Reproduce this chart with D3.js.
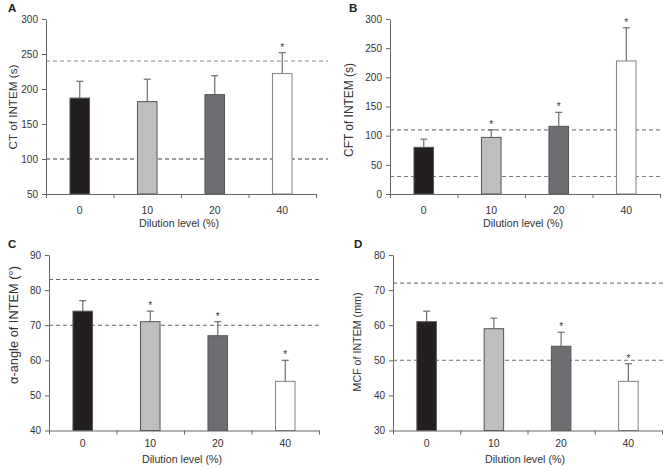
<!DOCTYPE html>
<html><head><meta charset="utf-8">
<script src="https://cdn.jsdelivr.net/npm/d3@7"></script>
<style>body{margin:0;background:#fff}svg{display:block}text{font-family:"Liberation Sans",Arial,sans-serif}</style>
</head><body>
<svg id="c" width="672" height="469"></svg>
<script>
const categories = ["0", "10", "20", "40"];
const barColors = ["#231f20", "#bcbec0", "#6d6e71", "#ffffff"];

const ctMean = [187, 182, 192, 222];
const ctErr = [211, 214, 219, 252];
const ctStar = [false, false, false, true];
const ctRef = [240, 100];
const ctTicks = [50, 100, 150, 200, 250, 300];

const cftMean = [80, 97, 116, 228];
const cftErr = [94, 110, 140, 285];
const cftStar = [false, true, true, true];
const cftRef = [110, 30];
const cftTicks = [0, 50, 100, 150, 200, 250, 300];

const alphaMean = [74, 71, 67, 54];
const alphaErr = [77, 74, 71, 60];
const alphaStar = [false, true, true, true];
const alphaRef = [83, 70];
const alphaTicks = [40, 50, 60, 70, 80, 90];

const mcfMean = [61, 59, 54, 44];
const mcfErr = [64, 62, 58, 49];
const mcfStar = [false, false, true, true];
const mcfRef = [72, 50];
const mcfTicks = [30, 40, 50, 60, 70, 80];

const svg = d3.select("#c");

const panels = [
  {letter:"A", lx:8, ly:12, x0:46, x1:316, y0:194, y1:19, dom:[50,300], ticks:ctTicks, mean:ctMean, err:ctErr, star:ctStar, ref:ctRef, refCol:["#8a8a8a","#3c3c3c"], refEnd:328, ylab:"CT of INTEM (s)", ylx:13, yly:107, ylen:85, xlx:179, xly:227, catY:214},
  {letter:"B", lx:349, ly:12, x0:390, x1:660, y0:194, y1:19, dom:[0,300], ticks:cftTicks, mean:cftMean, err:cftErr, star:cftStar, ref:cftRef, refCol:["#7d7d7d","#7d7d7d"], refEnd:662, ylab:"CFT of INTEM (s)", ylx:349, yly:110, ylen:94, xlx:523, xly:227, catY:214},
  {letter:"C", lx:8, ly:248, x0:49, x1:319, y0:430.5, y1:255, dom:[40,90], ticks:alphaTicks, mean:alphaMean, err:alphaErr, star:alphaStar, ref:alphaRef, refCol:["#666","#666"], refEnd:320, ylab:"\u03b1-angle of INTEM (\u00b0)", ylx:13, yly:325, ylen:118, xlx:182, xly:462.5, catY:447},
  {letter:"D", lx:354, ly:248, x0:393, x1:662, y0:430.5, y1:255, dom:[30,80], ticks:mcfTicks, mean:mcfMean, err:mcfErr, star:mcfStar, ref:mcfRef, refCol:["#808080","#707070"], refEnd:665, ylab:"MCF of INTEM (mm)", ylx:357, yly:342, ylen:99, xlx:525, xly:462.5, catY:447}
];

const axisColor = "#666";
const textCol = "#333";

function fit(sel, len) {
  const node = sel.node();
  const cur = parseFloat(sel.attr("font-size"));
  const w = node.getComputedTextLength();
  if (w > 0) sel.attr("font-size", (cur * len / w).toFixed(2));
}

panels.forEach(p => {
  const g = svg.append("g");
  const x = d3.scaleBand().domain(categories).range([p.x0, p.x1]).padding(0);
  const y = d3.scaleLinear().domain(p.dom).range([p.y0, p.y1]);
  const bw = x.bandwidth() * 0.29;

  // reference dashed lines
  p.ref.forEach((r, i) => {
    g.append("line").attr("x1", p.x0).attr("x2", p.refEnd)
      .attr("y1", y(r)).attr("y2", y(r))
      .attr("stroke", p.refCol[i])
      .attr("stroke-width", 1.1).attr("stroke-dasharray", "4,3");
  });

  // error bars
  categories.forEach((c, i) => {
    const cx = x(c) + x.bandwidth() / 2;
    g.append("line").attr("x1", cx).attr("x2", cx)
      .attr("y1", y(p.mean[i])).attr("y2", y(p.err[i]))
      .attr("stroke", "#6d6e71").attr("stroke-width", 1.2);
    g.append("line").attr("x1", cx - 3.5).attr("x2", cx + 3.5)
      .attr("y1", y(p.err[i])).attr("y2", y(p.err[i]))
      .attr("stroke", "#6d6e71").attr("stroke-width", 1.2);
    if (p.star[i]) {
      g.append("text").attr("x", cx).attr("y", y(p.err[i]) - 2)
        .attr("text-anchor", "middle").attr("font-size", 10).attr("fill", "#333").text("*");
    }
  });

  // bars
  g.selectAll("rect.bar").data(categories).join("rect")
    .attr("x", c => x(c) + (x.bandwidth() - bw) / 2)
    .attr("width", bw)
    .attr("y", (c, i) => y(p.mean[i]))
    .attr("height", (c, i) => y(p.dom[0]) - y(p.mean[i]))
    .attr("fill", (c, i) => barColors[i])
    .attr("stroke", (c, i) => i === 3 ? "#808285" : "#555")
    .attr("stroke-width", 1);

  // y axis
  const ya = g.append("g").attr("transform", `translate(${p.x0},0)`)
    .call(d3.axisLeft(y).tickValues(p.ticks).tickSize(4).tickPadding(4).tickSizeOuter(0));
  ya.select(".domain").attr("stroke", axisColor);
  ya.selectAll(".tick line").attr("stroke", axisColor);
  ya.selectAll("text").attr("font-size", 10).attr("fill", textCol).attr("font-family", "Liberation Sans, Arial, sans-serif");

  // x axis: boundary ticks
  const xl = d3.scaleLinear().domain([0, categories.length]).range([p.x0, p.x1]);
  const xa = g.append("g").attr("transform", `translate(0,${p.y0})`)
    .call(d3.axisBottom(xl).ticks(categories.length).tickSize(4).tickFormat("").tickSizeOuter(0));
  xa.select(".domain").attr("stroke", axisColor);
  xa.selectAll(".tick line").attr("stroke", axisColor);
  // category labels
  const xb = g.append("g").attr("transform", `translate(0,${p.y0})`)
    .call(d3.axisBottom(x).tickSize(0).tickPadding(0));
  xb.select(".domain").remove();
  xb.selectAll("text").attr("font-size", 10.5).attr("fill", textCol)
    .attr("font-family", "Liberation Sans, Arial, sans-serif")
    .attr("y", p.catY - p.y0).attr("dy", null);

  // labels
  const xt = g.append("text").attr("x", p.xlx).attr("y", p.xly).attr("text-anchor", "middle")
    .attr("font-size", 11).attr("fill", textCol).text("Dilution level (%)");
  fit(xt, 80);
  const yt = g.append("text").attr("transform", `translate(${p.ylx},${p.yly}) rotate(-90)`)
    .attr("text-anchor", "middle").attr("dy", "0.35em")
    .attr("font-size", 11).attr("fill", textCol).text(p.ylab);
  fit(yt, p.ylen);
  g.append("text").attr("x", p.lx).attr("y", p.ly).attr("font-size", 11.5)
    .attr("font-weight", "bold").attr("fill", "#222").text(p.letter);
});
</script>
</body></html>
